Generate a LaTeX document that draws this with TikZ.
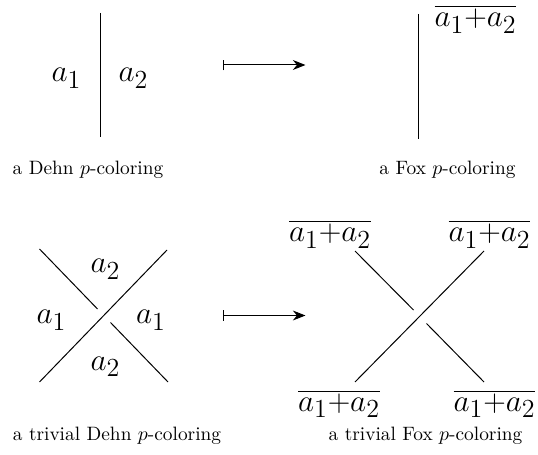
\documentclass[tikz,border=0pt]{standalone}
\usetikzlibrary{arrows.meta}
\newcommand{\ov}{\overline{a_1{+}a_2}}
\begin{document}
\begin{tikzpicture}[x=0.553pt,y=-0.553pt,
  strand/.style={line width=0.55pt},
  lab/.style={font=\fontsize{19}{22}\selectfont,anchor=base,inner sep=0pt},
  captext/.style={font=\fontsize{10.7}{12.8}\selectfont,anchor=base,inner sep=0pt},
  mapsto/.style={line width=0.55pt,{Bar[width=6pt,line width=0.9pt]}-{Stealth[length=7pt,width=5.5pt]}}]
\useasboundingbox (0,0) rectangle (538,455);
% top left: Dehn
\coordinate (dt) at (100,13);
\coordinate (db) at (100,137);
\draw[strand] (dt) -- (db);
\node[lab] (da1) at (66.5,82) {$a_1$};
\node[lab] (da2) at (133.5,82) {$a_2$};
\node[captext] (dcap) at (88,175) {a Dehn $p$-coloring};
% top arrow
\coordinate (ta) at (222.5,65);
\coordinate (tb) at (305.5,65);
\draw[mapsto] (ta) -- (tb);
% top right: Fox
\coordinate (ft) at (418,14);
\coordinate (fb) at (418,139);
\draw[strand] (ft) -- (fb);
\node[lab] (fl) at (475.5,27) {$\ov$};
\node[captext] (fcap) at (447.5,175) {a Fox $p$-coloring};
% bottom left: trivial Dehn crossing
\coordinate (p1) at (39.5,382);
\coordinate (p2) at (167,250);
\coordinate (p3) at (39.5,249);
\coordinate (p4) at (97.5,309);
\coordinate (p5) at (110.5,322.5);
\coordinate (p6) at (168,382);
\draw[strand] (p1) -- (p2);
\draw[strand] (p3) -- (p4);
\draw[strand] (p5) -- (p6);
\node[lab] (b2t) at (105.5,273) {$a_2$};
\node[lab] (b1l) at (51.5,324) {$a_1$};
\node[lab] (b1r) at (151,324) {$a_1$};
\node[lab] (b2b) at (105.5,370.5) {$a_2$};
\node[captext] (bcap) at (117,440) {a trivial Dehn $p$-coloring};
% bottom arrow
\coordinate (ba) at (222.5,315.5);
\coordinate (bb) at (305.5,315.5);
\draw[mapsto] (ba) -- (bb);
% bottom right: trivial Fox crossing
\coordinate (q1) at (355,382);
\coordinate (q2) at (484,251);
\coordinate (q3) at (355,251);
\coordinate (q4) at (413.5,310);
\coordinate (q5) at (426.5,323.5);
\coordinate (q6) at (484,382);
\draw[strand] (q1) -- (q2);
\draw[strand] (q3) -- (q4);
\draw[strand] (q5) -- (q6);
\node[lab] (ltl) at (330,242) {$\ov$};
\node[lab] (ltr) at (489.5,242) {$\ov$};
\node[lab] (lbl) at (339,411.5) {$\ov$};
\node[lab] (lbr) at (494.5,411.5) {$\ov$};
\node[captext] (fcap2) at (425.5,440) {a trivial Fox $p$-coloring};
\end{tikzpicture}
\end{document}
